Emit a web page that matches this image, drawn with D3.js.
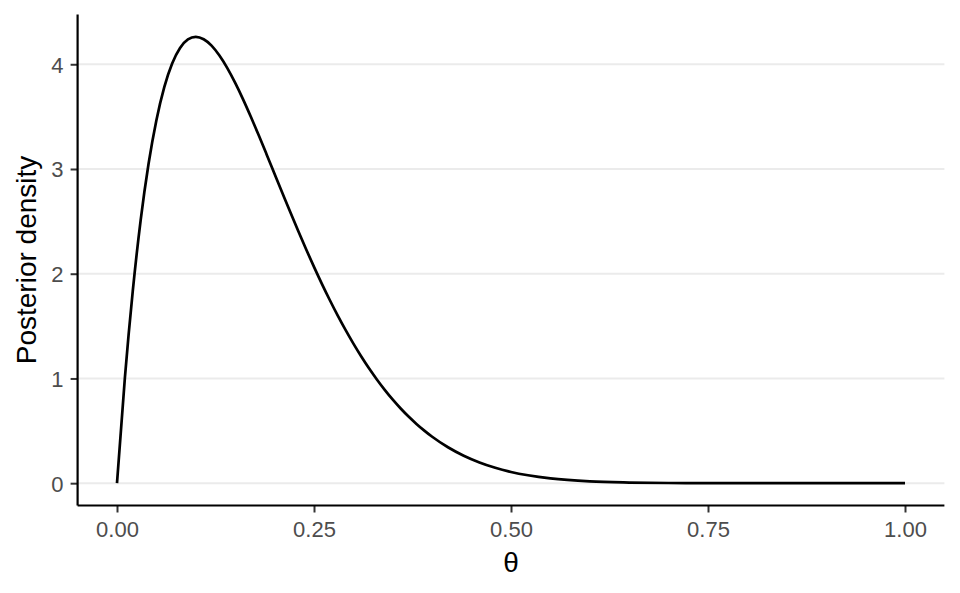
<!DOCTYPE html>
<html>
<head>
<meta charset="utf-8">
<script src="https://cdn.jsdelivr.net/npm/d3@7"></script>
<style>
  body { margin: 0; background: #fff; }
  svg text { font-family: "Liberation Sans", Arial, sans-serif; }
</style>
</head>
<body>
<script>
// posterior curve
const theta = [0, 0.01, 0.02, 0.03, 0.04, 0.05, 0.06, 0.07, 0.08, 0.09,
  0.10, 0.11, 0.12, 0.13, 0.14, 0.15, 0.16, 0.17, 0.18, 0.19,
  0.20, 0.21, 0.22, 0.23, 0.24, 0.25, 0.26, 0.27, 0.28, 0.29,
  0.30, 0.31, 0.32, 0.33, 0.34, 0.35, 0.36, 0.37, 0.38, 0.39,
  0.40, 0.42, 0.44, 0.46, 0.48, 0.50, 0.55, 0.60, 0.65, 0.70,
  0.75, 0.80, 0.90, 1.00];
const density = [0, 1.005, 1.834, 2.509, 3.047, 3.466, 3.782, 4.007, 4.155, 4.237,
  4.262, 4.239, 4.178, 4.083, 3.963, 3.822, 3.665, 3.496, 3.319, 3.137,
  2.953, 2.769, 2.586, 2.407, 2.233, 2.065, 1.903, 1.749, 1.602, 1.463,
  1.332, 1.209, 1.094, 0.988, 0.889, 0.797, 0.713, 0.636, 0.566, 0.502,
  0.443, 0.343, 0.262, 0.198, 0.147, 0.107, 0.046, 0.017, 0.006, 0.0015,
  0.0003, 0.00005, 0, 0];

const xTicks = [0, 0.25, 0.5, 0.75, 1];
const yTicks = [0, 1, 2, 3, 4];

const width = 960;
const height = 593;

const svg = d3.select('body').append('svg')
  .attr('width', width)
  .attr('height', height);

// ggplot style 5% expansion on both axes
const ymax = d3.max(density);
const x = d3.scaleLinear().domain([-0.05, 1.05]).range([77.6, 944.4]);
const y = d3.scaleLinear().domain([-0.05 * ymax, 1.05 * ymax]).range([505.5, 14.5]);

const [x0, x1] = x.range();
const [y0, y1] = y.range();

// grid
svg.append('g')
  .selectAll('line')
  .data(yTicks)
  .join('line')
  .attr('x1', x0)
  .attr('x2', x1)
  .attr('y1', (d) => y(d))
  .attr('y2', (d) => y(d))
  .attr('stroke', '#ebebeb')
  .attr('stroke-width', 2);

// curve
const pts = theta.map((t, i) => [t, density[i]]);
svg.append('path')
  .datum(pts)
  .attr('fill', 'none')
  .attr('stroke', '#000')
  .attr('stroke-width', 2.7)
  .attr('stroke-linejoin', 'round')
  .attr('d', d3.line()
    .x((d) => x(d[0]))
    .y((d) => y(d[1]))
    .curve(d3.curveMonotoneX));

// axes
const xAxis = svg.append('g')
  .attr('transform', `translate(0,${y0})`)
  .call(d3.axisBottom(x).tickValues(xTicks).tickFormat(d3.format('.2f'))
    .tickSize(7).tickPadding(4));

const yAxis = svg.append('g')
  .attr('transform', `translate(${x0},0)`)
  .call(d3.axisLeft(y).tickValues(yTicks).tickFormat(d3.format('d'))
    .tickSize(7).tickPadding(7));

[xAxis, yAxis].forEach((g) => {
  g.select('.domain').remove();
  g.selectAll('.tick line').attr('stroke', '#333').attr('stroke-width', 2);
  g.selectAll('.tick text')
    .attr('fill', '#4d4d4d')
    .style('font-size', '22px');
});
xAxis.selectAll('.tick text').attr('dy', '0.95em');
yAxis.selectAll('.tick text').attr('dy', '0.36em');

svg.append('line')
  .attr('x1', x0).attr('x2', x1)
  .attr('y1', y0).attr('y2', y0)
  .attr('stroke', '#000').attr('stroke-width', 2.2);
svg.append('line')
  .attr('x1', x0).attr('x2', x0)
  .attr('y1', y0).attr('y2', y1)
  .attr('stroke', '#000').attr('stroke-width', 2.2);

// titles
svg.append('text')
  .attr('x', (x0 + x1) / 2)
  .attr('y', 572)
  .attr('text-anchor', 'middle')
  .style('font-size', '28px')
  .text('θ');

svg.append('text')
  .attr('transform', `translate(36,${(y0 + y1) / 2}) rotate(-90)`)
  .attr('text-anchor', 'middle')
  .style('font-size', '28px')
  .text('Posterior density');
</script>
</body>
</html>
